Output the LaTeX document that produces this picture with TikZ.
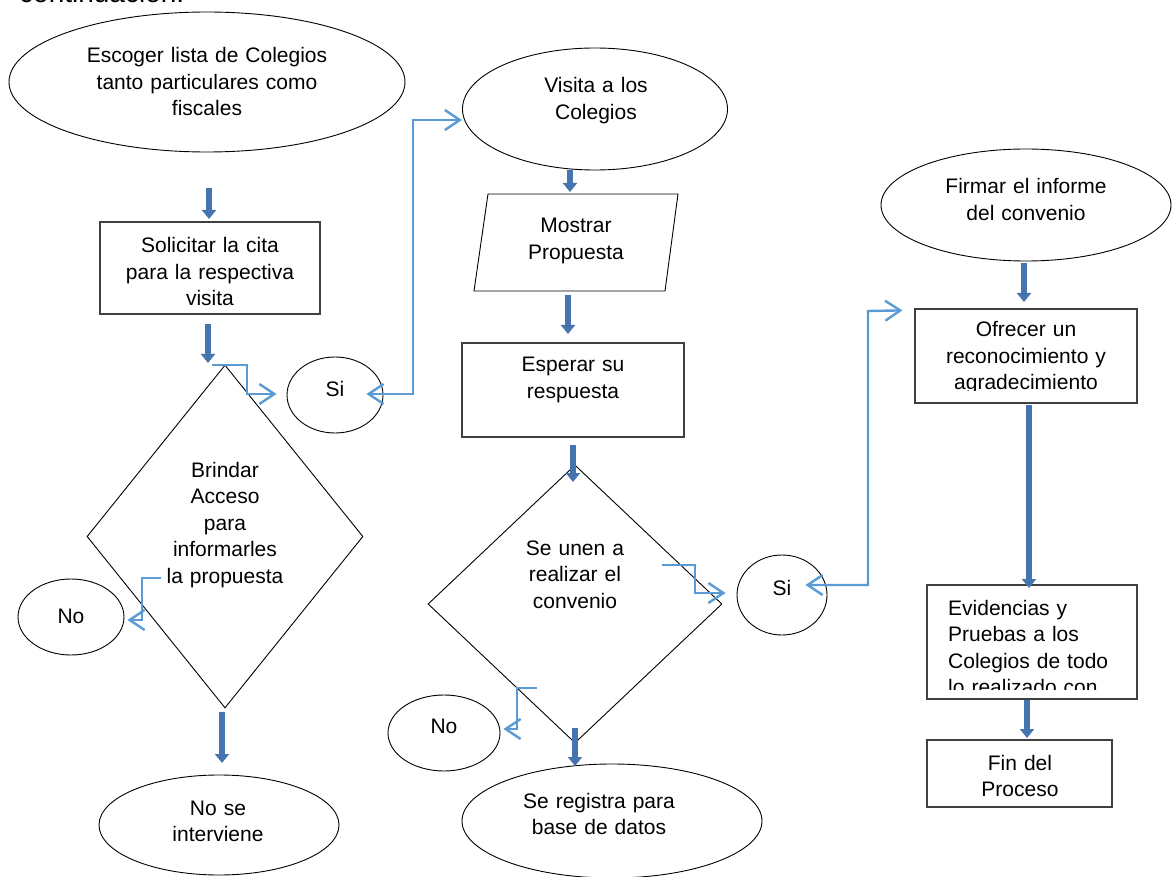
\documentclass[tikz,border=0pt]{standalone}
\usepackage{fontspec}
\setmainfont{Liberation Sans}
\usetikzlibrary{shapes.geometric,arrows.meta,calc}
\definecolor{conblue}{HTML}{5B9BD5}
\definecolor{blkblue}{HTML}{4674AE}
\definecolor{boxline}{HTML}{404040}
\begin{document}
\begin{tikzpicture}[x=1pt,y=-1pt,
  txt/.style={font=\fontsize{21}{26.5}\selectfont, text width=280pt, align=center, anchor=base, inner sep=0pt},
  ell/.style={draw, ellipse, line width=0.9pt, inner sep=0pt},
  box/.style={draw=boxline, rectangle, line width=1.2pt, inner sep=0pt},
  dia/.style={draw, diamond, line width=0.9pt, inner sep=0pt},
  blk/.style={draw=blkblue, line width=6pt, -{Triangle[length=9pt,width=14pt]}},
  conn/.style={draw=conblue, line width=2.4pt, -{Straight Barb[length=15pt,width=20pt]}},
  conn2/.style={draw=conblue, line width=2.4pt, {Straight Barb[length=15pt,width=20pt]}-{Straight Barb[length=15pt,width=20pt]}},
]
\useasboundingbox (0,0) rectangle (1176,877);
\clip (0,0) rectangle (1176,877);

% heading (cut off at top)
\node[anchor=base west, inner sep=0pt, font=\fontsize{28}{32}\selectfont] (head) at (19,3) {continuación:};

% shapes
\node[ell, minimum width=396pt, minimum height=140pt] (e1) at (207,82) {};
\node[box, minimum width=220pt, minimum height=92pt] (r1) at (210,268) {};
\node[dia, minimum width=276pt, minimum height=343pt] (d1) at (225,536.5) {};
\node[ell, minimum width=240pt, minimum height=100pt] (e2) at (219,825) {};
\node[ell, minimum width=106pt, minimum height=76pt] (no1) at (71,617) {};
\node[ell, minimum width=96pt, minimum height=76pt] (si1) at (335,395) {};
\node[ell, minimum width=265pt, minimum height=122pt] (e3) at (595,109) {};
\coordinate (p1a) at (488,194);
\coordinate (p1b) at (678,194);
\coordinate (p1c) at (665,291);
\coordinate (p1d) at (474,291);
\draw[line width=0.9pt] (p1a) -- (p1b) -- (p1c) -- (p1d) -- cycle;
\node[box, minimum width=222pt, minimum height=94pt] (r2) at (573,390) {};
\node[dia, minimum width=294pt, minimum height=278pt] (d2) at (575,604) {};
\node[ell, minimum width=300pt, minimum height=114pt] (e4) at (612,821) {};
\node[ell, minimum width=112pt, minimum height=76pt] (no2) at (444,733) {};
\node[ell, minimum width=90pt, minimum height=80pt] (si2) at (782,595) {};
\node[ell, minimum width=290pt, minimum height=112pt] (e5) at (1026,205) {};
\node[box, minimum width=222pt, minimum height=94pt] (r3) at (1026,356) {};
\node[box, minimum width=210pt, minimum height=114pt] (r4) at (1032,642) {};
\node[box, minimum width=185pt, minimum height=67pt] (r5) at (1019.5,773.5) {};

% texts
\node[txt] (t1) at (207,63) {Escoger lista de Colegios\\tanto particulares como\\fiscales};
\node[txt] (t2) at (210,253) {Solicitar la cita\\para la respectiva\\visita};
\node[txt] (t3) at (225,477) {Brindar\\Acceso\\para\\informarles\\la propuesta};
\node[txt] (t4) at (218,815) {No se\\interviene};
\node[txt] (t5) at (71,623) {No};
\node[txt] (t6) at (335,397) {Si};
\node[txt] (t7) at (596,93) {Visita a los\\Colegios};
\node[txt] (t8) at (576,233) {Mostrar\\Propuesta};
\node[txt] (t9) at (573,372) {Esperar su\\respuesta};
\node[txt] (t10) at (575,555) {Se unen a\\realizar el\\convenio};
\node[txt] (t11) at (444,733) {No};
\node[txt] (t12) at (599,808) {Se registra para\\base de datos};
\node[txt] (t13) at (782,595) {Si};
\node[txt] (t14) at (1026,194) {Firmar el informe\\del convenio};
\begin{scope}
\clip (915,309) rectangle (1137,391);
\node[txt] (t15) at (1026,337) {Ofrecer un\\reconocimiento y\\agradecimiento};
\end{scope}
\begin{scope}
\clip (927,585) rectangle (1137,689);
\node[txt, text width=200pt, align=left, anchor=base west] (t16) at (948,615) {Evidencias y\\Pruebas a los\\Colegios de todo\\lo realizado con};
\end{scope}
\node[txt] (t17) at (1020,770) {Fin del\\Proceso};

% block arrows
\coordinate (a1s) at (209,188);  \coordinate (a1e) at (209,219);
\coordinate (a2s) at (208,324);  \coordinate (a2e) at (208,363);
\coordinate (a3s) at (222,712);  \coordinate (a3e) at (222,763);
\coordinate (a4s) at (570,170);  \coordinate (a4e) at (570,192);
\coordinate (a5s) at (568,295);  \coordinate (a5e) at (568,334);
\coordinate (a6s) at (573,445);  \coordinate (a6e) at (573,482);
\coordinate (a7s) at (575,728);  \coordinate (a7e) at (575,766);
\coordinate (a8s) at (1024,263); \coordinate (a8e) at (1024,302);
\coordinate (a9s) at (1029,405); \coordinate (a9e) at (1029,588);
\coordinate (a10s) at (1027,700); \coordinate (a10e) at (1027,738);
\foreach \i in {1,...,10} { \draw[blk] (a\i s) -- (a\i e); }

% blue connectors
\coordinate (c1s) at (212,365);
\draw[conn] (c1s) -- (247,365) -- (247,394) -- ($(si1.west)+(-10,-1)$);
\draw[conn2] ($(si1.east)+(-17,-1)$) -- (413,394) -- (413,120) -- (e3.west |- 0,120);
\coordinate (c3s) at (161,578);
\draw[conn] (c3s) -| (142,620) -- ($(no1.east)+(3,3)$);
\coordinate (c4s) at (537,688);
\draw[conn] (c4s) -| (517,729) -- ($(no2.east)+(3,-4)$);
\coordinate (c5s) at (662,565);
\draw[conn] (c5s) -| (695,593) -- ($(si2.west)+(-11,-2)$);
\draw[conn2] ($(si2.east)+(-22,-10)$) -- (868,585) -- (868,311) -- ($(r3.north west)+(-12,2)$);
\end{tikzpicture}
\end{document}
